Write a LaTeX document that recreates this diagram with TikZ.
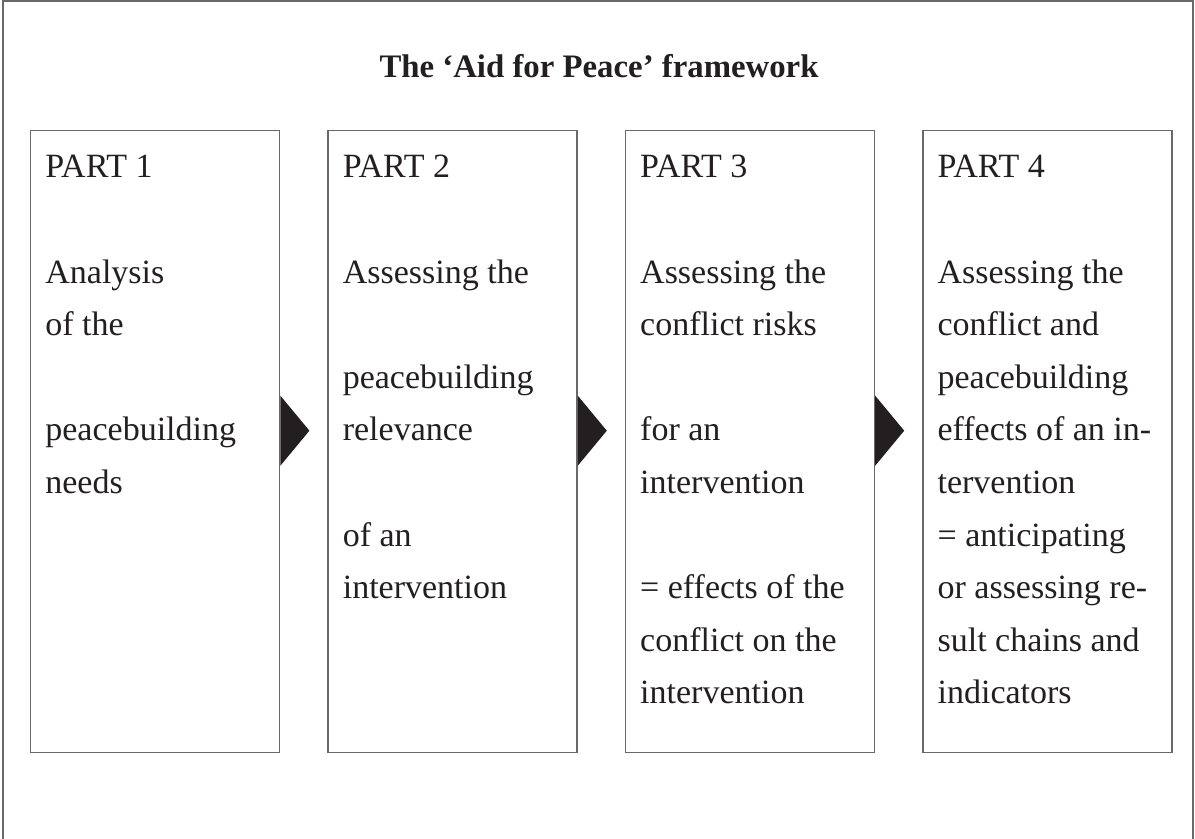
\documentclass[tikz,border=0pt]{standalone}
\usepackage{fontspec}
\setmainfont{Liberation Serif}
\usetikzlibrary{positioning, calc}
\definecolor{ink}{RGB}{35, 31, 32}
\definecolor{rule}{RGB}{105, 105, 105}
\tikzset{
    partbox/.style={
        rectangle, draw=rule, line width=0.7pt,
        minimum width=124.5pt, minimum height=311pt, inner sep=0pt
    },
    parttext/.style={
        align=left, inner sep=0pt, text=ink,
        font=\fontsize{17}{26.3}\selectfont
    },
    tip/.style={fill=ink},
    heading/.style={font=\fontsize{16.4}{19}\selectfont\bfseries, text=ink}
}

\begin{document}
\begin{tikzpicture}[x=0.5pt, y=-0.5pt, node distance=23.5pt]
    \useasboundingbox (0,0) rectangle (1195,839);

    % Frame and title
    \draw[rule, line width=1pt] (3,839) |- (1193,1) -- (1193,839);
    \node[heading, anchor=base] (title) at (599,78) {The ‘Aid for Peace’ framework};

    % Boxes
    \node[partbox, anchor=north west] (p1) at (30,130) {};
    \node[partbox, right=of p1] (p2) {};
    \node[partbox, right=of p2] (p3) {};
    \node[partbox, right=of p3] (p4) {};

    % Texts
    \node[parttext, below right=12.5pt and 7.5pt of p1.north west] (t1)
        {PART 1\\[26.3pt]Analysis\\of the\\[26.3pt]peacebuilding\\needs};
    \node[parttext, below right=12.5pt and 7.5pt of p2.north west] (t2)
        {PART 2\\[26.3pt]Assessing the\\[26.3pt]peacebuilding\\relevance\\[26.3pt]of an\\intervention};
    \node[parttext, below right=12.5pt and 7.5pt of p3.north west] (t3)
        {PART 3\\[26.3pt]Assessing the\\conflict risks\\[26.3pt]for an\\intervention\\[26.3pt]= effects of the\\conflict on the\\intervention};
    \node[parttext, below right=12.5pt and 7.5pt of p4.north west] (t4)
        {PART 4\\[26.3pt]Assessing the\\conflict and\\peacebuilding\\effects of an in-\\tervention\\= anticipating\\or assessing re-\\sult chains and\\indicators};

    % Arrow tips between boxes
    \foreach \i in {1,2,3} {
        \fill[tip] ($(p\i.east)+(0,-46)$) -- ++(29,35) -- ++(-29,35) -- cycle;
    }

\end{tikzpicture}
\end{document}
